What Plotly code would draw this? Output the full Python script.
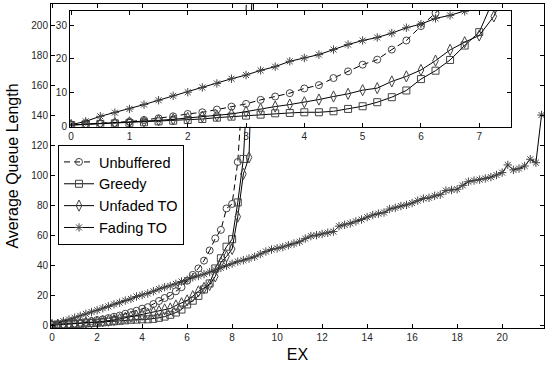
import plotly.graph_objects as go

# ---------------- data ----------------
ex_fading = [0.00, 0.25, 0.50, 0.75, 1.00, 1.25, 1.50, 1.75, 2.00, 2.25, 2.50, 2.75,
             3.00, 3.25, 3.50, 3.75, 4.00, 4.25, 4.50, 4.75, 5.00, 5.25, 5.50, 5.75,
             6.00, 6.25, 6.50, 6.75, 7.00, 7.25, 7.50, 7.75, 8.00, 8.25, 8.50, 8.75,
             9.00, 9.25, 9.50, 9.75, 10.00, 10.25, 10.50, 10.75, 11.00, 11.25, 11.50, 11.75,
             12.00, 12.25, 12.50, 12.75, 13.00, 13.25, 13.50, 13.75, 14.00, 14.25, 14.50, 14.75,
             15.00, 15.25, 15.50, 15.75, 16.00, 16.25, 16.50, 16.75, 17.00, 17.25, 17.50, 17.75,
             18.00, 18.25, 18.50, 18.75, 19.00, 19.25, 19.50, 19.75, 20.00, 20.25, 20.50, 20.75,
             21.00, 21.25, 21.50, 21.75]
fading_to = [0.4, 1.4, 2.9, 4.0, 5.1, 6.4, 7.7, 9.0, 10.1, 11.5, 12.7, 14.1,
             15.2, 16.6, 17.7, 19.3, 20.3, 21.3, 22.8, 24.3, 25.5, 26.4, 27.7, 29.3,
             30.4, 32.1, 33.0, 34.2, 35.6, 37.0, 38.4, 39.9, 41.2, 42.6, 43.5, 44.6,
             45.8, 47.6, 49.3, 50.6, 51.4, 52.3, 53.5, 54.6, 55.8, 57.9, 59.6, 60.2,
             61.0, 61.8, 62.6, 66.2, 67.1, 68.0, 69.4, 70.6, 72.2, 73.6, 74.5, 75.3,
             77.6, 78.4, 79.6, 80.4, 81.6, 83.2, 84.6, 85.1, 86.4, 87.2, 89.9, 90.3,
             90.8, 93.4, 95.8, 96.6, 97.2, 98.0, 98.9, 100.3, 101.9, 107.0, 103.7, 104.6,
             106.3, 110.8, 108.5, 140.3]

ex_unbuf = [0.00, 0.25, 0.50, 0.75, 1.00, 1.25, 1.50, 1.75, 2.00, 2.25, 2.50, 2.75,
            3.00, 3.25, 3.50, 3.75, 4.00, 4.25, 4.50, 4.75, 5.00, 5.25, 5.50, 5.75,
            6.00, 6.25, 6.50, 6.75, 7.00, 7.25, 7.50, 7.75, 8.00, 8.25, 8.50, 8.75]
unbuffered = [0.4, 0.6, 0.8, 0.9, 1.3, 1.8, 2.3, 2.9, 3.6, 4.1, 4.9, 5.8,
              6.6, 7.8, 8.8, 9.8, 11.2, 12.2, 14.3, 16.3, 18.3, 19.8, 22.8, 25.5,
              29.8, 33.7, 38.0, 43.2, 50.0, 58.0, 63.7, 78.0, 81.0, 109.0, 165.0, 260.0]

ex_greedy = [0.00, 0.25, 0.50, 0.75, 1.00, 1.25, 1.50, 1.75, 2.00, 2.25, 2.50, 2.75,
             3.00, 3.25, 3.50, 3.75, 4.00, 4.25, 4.50, 4.75, 5.00, 5.25, 5.50, 5.75,
             6.00, 6.25, 6.50, 6.75, 7.00, 7.25, 7.50, 7.75, 8.00, 8.25, 8.50, 8.75, 9.00]
greedy = [0.3, 0.5, 0.6, 0.8, 0.9, 1.1, 1.4, 1.6, 1.8, 2.1, 2.5, 2.8,
          3.1, 3.4, 3.8, 3.9, 4.1, 4.1, 4.4, 5.1, 5.9, 7.1, 8.6, 10.6,
          14.0, 16.5, 19.7, 24.0, 28.0, 38.0, 44.8, 52.5, 57.5, 82.0, 111.0, 171.0, 250.0]

ex_unfaded = [0.00, 0.25, 0.50, 0.75, 1.00, 1.25, 1.50, 1.75, 2.00, 2.25, 2.50, 2.75,
              3.00, 3.25, 3.50, 3.75, 4.00, 4.25, 4.50, 4.75, 5.00, 5.25, 5.50, 5.75,
              6.00, 6.25, 6.50, 6.75, 7.00, 7.25, 7.50, 7.75, 8.00, 8.25, 8.50, 8.75, 9.00]
unfaded_to = [0.3, 0.5, 0.7, 0.9, 1.1, 1.3, 1.7, 2.0, 2.4, 2.8, 3.1, 3.6,
              4.3, 5.1, 5.8, 6.4, 7.1, 7.9, 8.8, 9.6, 10.7, 11.3, 13.3, 14.8,
              16.7, 19.5, 22.7, 25.0, 27.0, 32.7, 42.0, 46.0, 51.0, 72.5, 101.0, 112.0, 240.0]

main_xticks = [0, 2, 4, 6, 8, 10, 12, 14, 16, 18, 20]
main_yticks = [0, 20, 40, 60, 80, 100, 120, 140, 160, 180, 200]
inset_xticks = [0, 1, 2, 3, 4, 5, 6, 7]
inset_yticks = [0, 10, 20, 30]

series = [
    ("Unbuffered", ex_unbuf, unbuffered, "circle-open", 7, "6px,4px"),
    ("Greedy", ex_greedy, greedy, "square-open", 7, "solid"),
    ("Unfaded TO", ex_unfaded, unfaded_to, "diamond-tall-open", 8, "solid"),
    ("Fading TO", ex_fading, fading_to, "asterisk-open", 7, "solid"),
]

FONT = "Liberation Sans, Arial, Helvetica, sans-serif"
MARK = "#444444"

fig = go.Figure()
for name, xs, ys, sym, sz, dash in series:
    fig.add_trace(go.Scatter(
        x=xs, y=ys, name=name, mode="lines+markers",
        line=dict(color="black", width=1, dash=dash),
        marker=dict(symbol=sym, size=sz, color=MARK, line=dict(width=1, color=MARK)),
        xaxis="x", yaxis="y", showlegend=True, cliponaxis=True,
    ))
for name, xs, ys, sym, sz, dash in series:
    fig.add_trace(go.Scatter(
        x=xs, y=ys, name=name, mode="lines+markers",
        line=dict(color="black", width=1, dash=dash),
        marker=dict(symbol=sym, size=sz, color=MARK, line=dict(width=1, color=MARK)),
        xaxis="x2", yaxis="y2", showlegend=False, cliponaxis=True,
    ))

axis_common = dict(
    showline=True, linecolor="black", linewidth=1, mirror="ticks",
    ticks="inside", ticklen=4, tickcolor="black", tickwidth=1,
    showgrid=False, zeroline=False, automargin=False,
    tickfont=dict(family=FONT, size=10, color="#262626"),
)

fig.update_layout(
    width=546, height=367,
    margin=dict(l=51, r=2, t=4, b=39, autoexpand=False),
    paper_bgcolor="white", plot_bgcolor="white",
    font=dict(family=FONT, color="black"),
    xaxis=dict(domain=[0, 1], range=[-0.05, 21.86], tickvals=main_xticks,
               title=dict(text="EX", font=dict(family=FONT, size=16, color="black"), standoff=6),
               **axis_common),
    yaxis=dict(domain=[0, 1], range=[-1.7, 214.3], tickvals=main_yticks,
               title=dict(text="Average Queue Length", font=dict(family=FONT, size=16, color="black"), standoff=8),
               **axis_common),
    xaxis2=dict(domain=[0.0385, 0.9325], range=[-0.02, 7.54], tickvals=inset_xticks,
                anchor="y2", **axis_common),
    yaxis2=dict(domain=[0.6213, 0.9784], range=[-0.2, 34.3], tickvals=inset_yticks,
                anchor="x2", **axis_common),
    legend=dict(x=0.0142, y=0.5648, xanchor="left", yanchor="top",
                bgcolor="white", bordercolor="black", borderwidth=1,
                font=dict(family=FONT, size=14.5, color="black"),
                tracegroupgap=0, itemwidth=30),
    showlegend=True,
)

fig.write_html("out.html", config={"displayModeBar": False})

# remove default page margins so the 546x367 figure fills the window exactly
with open("out.html", "r", encoding="utf-8") as f:
    html = f.read()
html = html.replace("<head>", "<head><style>html,body{margin:0;padding:0;overflow:hidden;}</style>", 1)
with open("out.html", "w", encoding="utf-8") as f:
    f.write(html)
